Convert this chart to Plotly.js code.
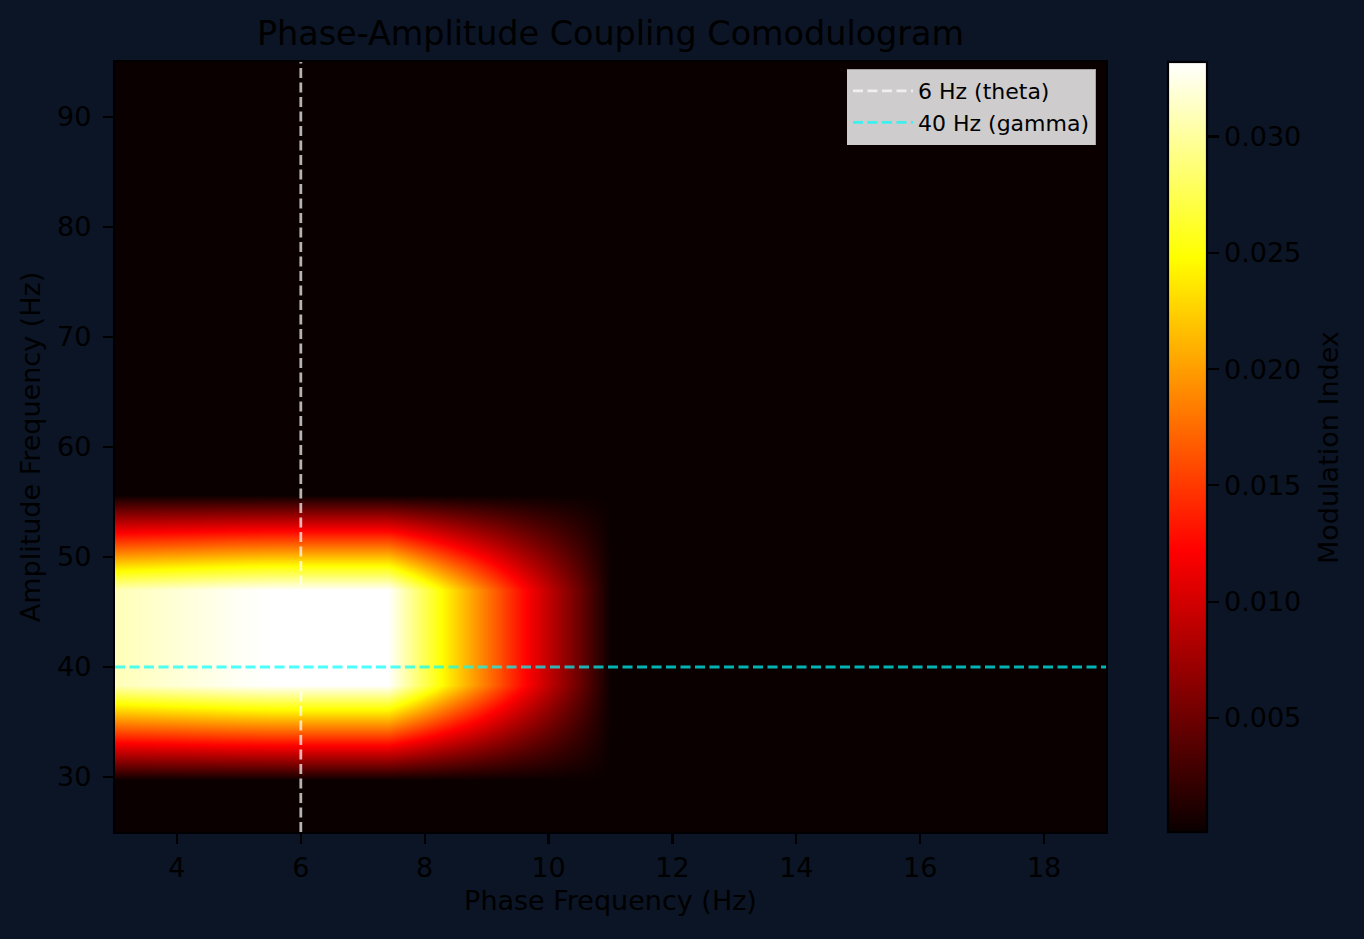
<!DOCTYPE html>
<html>
<head>
<meta charset="utf-8">
<script src="https://cdn.plot.ly/plotly-3.0.1.min.js"></script>
<style>html,body{margin:0;padding:0;background:#0b1526;}</style>
</head>
<body>
<div id="chart" style="width:1364px;height:939px;"></div>
<script>
// Phase frequencies (Hz) – grid nodes along x
const phaseFreqs = [3, 4, 5, 5.5, 7.4, 8.4, 9.5, 10.5, 11, 19];
// Amplitude frequencies (Hz) – grid nodes along y
const ampFreqs = [25, 29.7, 31, 33, 35, 37, 38.4, 47, 49, 51, 53, 55.6, 95];
// Modulation index (rows = ampFreqs, cols = phaseFreqs)
const modulationIndex = [
  [0.0001, 0.0001, 0.0001, 0.0001, 0.0001, 0.0001, 0.0001, 0.0001, 0.0001, 0.0001],
  [0.0001, 0.0001, 0.0001, 0.0001, 0.0001, 0.0001, 0.0001, 0.0001, 0.0001, 0.0001],
  [0.00472, 0.00487, 0.00502, 0.00507, 0.00507, 0.00363, 0.00209, 0.00080, 0.0001, 0.0001],
  [0.01180, 0.01218, 0.01255, 0.01268, 0.01268, 0.00903, 0.00513, 0.00186, 0.0001, 0.0001],
  [0.01888, 0.01948, 0.02009, 0.02029, 0.02029, 0.01444, 0.00818, 0.00293, 0.0001, 0.0001],
  [0.02596, 0.02679, 0.02763, 0.02790, 0.02790, 0.01984, 0.01122, 0.00399, 0.0001, 0.0001],
  [0.03088, 0.03188, 0.03287, 0.03320, 0.03320, 0.02360, 0.01334, 0.00473, 0.0001, 0.0001],
  [0.03088, 0.03188, 0.03287, 0.03320, 0.03320, 0.02360, 0.01334, 0.00473, 0.0001, 0.0001],
  [0.02380, 0.02457, 0.02533, 0.02559, 0.02559, 0.01820, 0.01030, 0.00367, 0.0001, 0.0001],
  [0.01642, 0.01694, 0.01747, 0.01764, 0.01764, 0.01256, 0.00712, 0.00256, 0.0001, 0.0001],
  [0.00934, 0.00963, 0.00993, 0.01003, 0.01003, 0.00715, 0.00407, 0.00149, 0.0001, 0.0001],
  [0.0001, 0.0001, 0.0001, 0.0001, 0.0001, 0.0001, 0.0001, 0.0001, 0.0001, 0.0001],
  [0.0001, 0.0001, 0.0001, 0.0001, 0.0001, 0.0001, 0.0001, 0.0001, 0.0001, 0.0001]
];
// Reference frequencies
const thetaFreq = 6;
const gammaFreq = 40;
const xRange = [3, 19];
const yRange = [25, 95];
const colorbarTicks = [0.005, 0.010, 0.015, 0.020, 0.025, 0.030];

// matplotlib "hot" colormap
const hotScale = [
  [0, 'rgb(10,0,0)'],
  [0.365079, 'rgb(255,0,0)'],
  [0.746032, 'rgb(255,255,0)'],
  [1, 'rgb(255,255,255)']
];

const FONT = 'DejaVu Sans, Verdana, sans-serif';
const BG = '#0b1526';

const heat = {
  type: 'heatmap',
  x: phaseFreqs,
  y: ampFreqs,
  z: modulationIndex,
  colorscale: hotScale,
  zsmooth: 'best',
  showscale: true,
  hoverinfo: 'skip',
  showlegend: false,
  colorbar: {
    thickness: 39, thicknessmode: 'pixels',
    len: 1, lenmode: 'fraction',
    x: 1.0626, xanchor: 'left', xpad: 0,
    y: 0.5, yanchor: 'middle', ypad: 0,
    outlinecolor: '#000', outlinewidth: 2.2,
    ticks: 'outside', ticklen: 11, tickwidth: 2.2, tickcolor: '#000',
    tickvals: colorbarTicks, tickformat: '.3f',
    tickfont: {family: FONT, size: 27, color: '#000'},
    title: {text: '', side: 'right'}
  }
};

const thetaLine = {
  type: 'scatter', mode: 'lines',
  x: [thetaFreq, thetaFreq], y: yRange,
  name: '6 Hz (theta)',
  line: {color: 'rgba(255,255,255,0.7)', width: 2.8, dash: '10px,4.5px'},
  hoverinfo: 'skip'
};
const gammaLine = {
  type: 'scatter', mode: 'lines',
  x: xRange, y: [gammaFreq, gammaFreq],
  name: '40 Hz (gamma)',
  line: {color: 'rgba(0,255,255,0.7)', width: 2.8, dash: '10px,4.5px'},
  hoverinfo: 'skip'
};

const axisCommon = {
  ticks: 'outside', ticklen: 10, tickwidth: 2.2, tickcolor: '#000',
  tickfont: {family: FONT, size: 27, color: '#000'},
  showline: true, linecolor: '#000', linewidth: 2.2, mirror: true,
  showgrid: false, zeroline: false, automargin: false
};

const layout = {
  width: 1364, height: 939,
  paper_bgcolor: BG, plot_bgcolor: BG,
  font: {family: FONT, color: '#000'},
  margin: {l: 115, r: 258, t: 62, b: 107, pad: 0},
  title: {
    text: 'Phase-Amplitude Coupling Comodulogram',
    font: {family: FONT, size: 33.4, color: '#000'},
    x: 0.5, xref: 'paper', xanchor: 'center',
    y: 0.964, yref: 'container', yanchor: 'middle'
  },
  xaxis: Object.assign({}, axisCommon, {
    range: xRange, tick0: 4, dtick: 2, ticklabelstandoff: 0,
    title: {text: 'Phase Frequency (Hz)', font: {family: FONT, size: 27, color: '#000'}, standoff: 10}
  }),
  yaxis: Object.assign({}, axisCommon, {
    range: yRange, tick0: 30, dtick: 10, ticklabelstandoff: 6,
    title: {text: 'Amplitude Frequency (Hz)', font: {family: FONT, size: 27, color: '#000'}, standoff: 9}
  }),
  legend: {
    x: 0.9899, y: 0.9909, xanchor: 'right', yanchor: 'top',
    bgcolor: 'rgba(255,255,255,0.8)', bordercolor: 'rgba(204,204,204,0.8)', borderwidth: 1,
    font: {family: FONT, size: 22, color: '#000'},
    itemwidth: 60
  },
  annotations: [{
    text: 'Modulation Index', textangle: -90,
    xref: 'paper', yref: 'paper', x: 1.224, y: 0.5,
    xanchor: 'center', yanchor: 'middle', showarrow: false,
    font: {family: FONT, size: 27, color: '#000'}
  }],
  showlegend: true
};

Plotly.newPlot('chart', [heat, thetaLine, gammaLine], layout, {displayModeBar: false, staticPlot: true});
</script>
</body>
</html>
